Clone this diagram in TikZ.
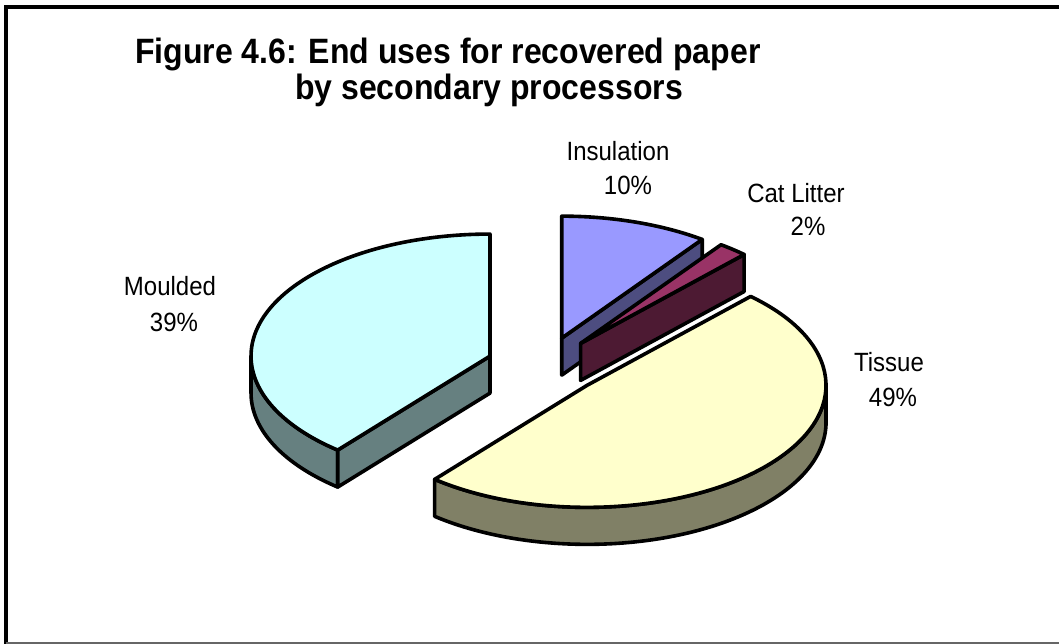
\documentclass[tikz,border=0pt]{standalone}
\usepackage{fontspec}
\setmainfont{Liberation Sans}

\definecolor{moultop}{HTML}{CCFFFF}
\definecolor{moulside}{HTML}{668080}
\definecolor{instop}{HTML}{9999FF}
\definecolor{insside}{HTML}{4D4D80}
\definecolor{cattop}{HTML}{993366}
\definecolor{catside}{HTML}{4D1A33}
\definecolor{tistop}{HTML}{FFFFCC}
\definecolor{tisside}{HTML}{808066}

\begin{document}
\begin{tikzpicture}[x=1pt,y=1pt,
  face/.style={draw=black,line width=3.6pt,line join=round},
  pie/.style={x radius=239,y radius=122},
  lbl/.style={font=\fontsize{24}{29}\selectfont,inner sep=0pt,anchor=base,yscale=1.1},
  heading/.style={font=\bfseries\fontsize{32}{38}\selectfont,inner sep=0pt,anchor=base west,yscale=1.1}]
\useasboundingbox (0,0) rectangle (1059,644);

% frame
\draw[line width=4pt] (1059,637) -- (6,637) -- (6,0);
\draw[black!60, line width=1.5pt] (6,0.75) -- (1059,0.75);

\node[heading] (title1) at (135,580) {Figure 4.6: End uses for recovered paper};
\node[heading] (title2) at (295,544) {by secondary processors};

% slice tips, pushed out from the centre (544,278)
\coordinate (moulded)    at ({544+57.36*cos(160.2)},{278+29.28*sin(160.2)});
\coordinate (insulation) at ({544+57.36*cos(72)},{278+29.28*sin(72)});
\coordinate (catlitter)  at ({544+57.36*cos(50.4)},{278+29.28*sin(50.4)});
\coordinate (tissue)     at ({544+57.36*cos(-41.4)},{278+29.28*sin(-41.4)});

% moulded
\filldraw[face,fill=moulside] (moulded) ++(180:239 and 122)
  arc[pie,start angle=180,end angle=230.4] -- ++(0,-37)
  arc[pie,start angle=230.4,end angle=180] -- cycle;
\filldraw[face,fill=moulside] (moulded) -- ++(230.4:239 and 122) -- ++(0,-37)
  -- ++(50.4:239 and 122) -- cycle;
\filldraw[face,fill=moultop] (moulded) -- ++(90:239 and 122)
  arc[pie,start angle=90,end angle=230.4] -- cycle;

% insulation
\filldraw[face,fill=insside] (insulation) -- ++(54:239 and 122) -- ++(0,-37)
  -- ++(234:239 and 122) -- cycle;
\filldraw[face,fill=instop] (insulation) -- ++(54:239 and 122)
  arc[pie,start angle=54,end angle=90] -- cycle;

% cat litter
\filldraw[face,fill=catside] (catlitter) -- ++(46.8:239 and 122) -- ++(0,-37)
  -- ++(226.8:239 and 122) -- cycle;
\filldraw[face,fill=cattop] (catlitter) -- ++(46.8:239 and 122)
  arc[pie,start angle=46.8,end angle=54] -- cycle;

% tissue
\filldraw[face,fill=tisside] (tissue) ++(230.4:239 and 122)
  arc[pie,start angle=230.4,end angle=360] -- ++(0,-37)
  arc[pie,start angle=360,end angle=230.4] -- cycle;
\filldraw[face,fill=tistop] (tissue) -- ++(-129.6:239 and 122)
  arc[pie,start angle=-129.6,end angle=46.8] -- cycle;

% labels
\node[lbl] (insname) at (618,483) {Insulation};
\node[lbl] (inspct)  at (628,449) {10\%};
\node[lbl] (catname) at (796,441) {Cat Litter};
\node[lbl] (catpct)  at (808,408) {2\%};
\node[lbl] (moulname) at (170,348) {Moulded};
\node[lbl] (moulpct)  at (174,312) {39\%};
\node[lbl] (tisname) at (889,272) {Tissue};
\node[lbl] (tispct)  at (893,237) {49\%};
\end{tikzpicture}
\end{document}
